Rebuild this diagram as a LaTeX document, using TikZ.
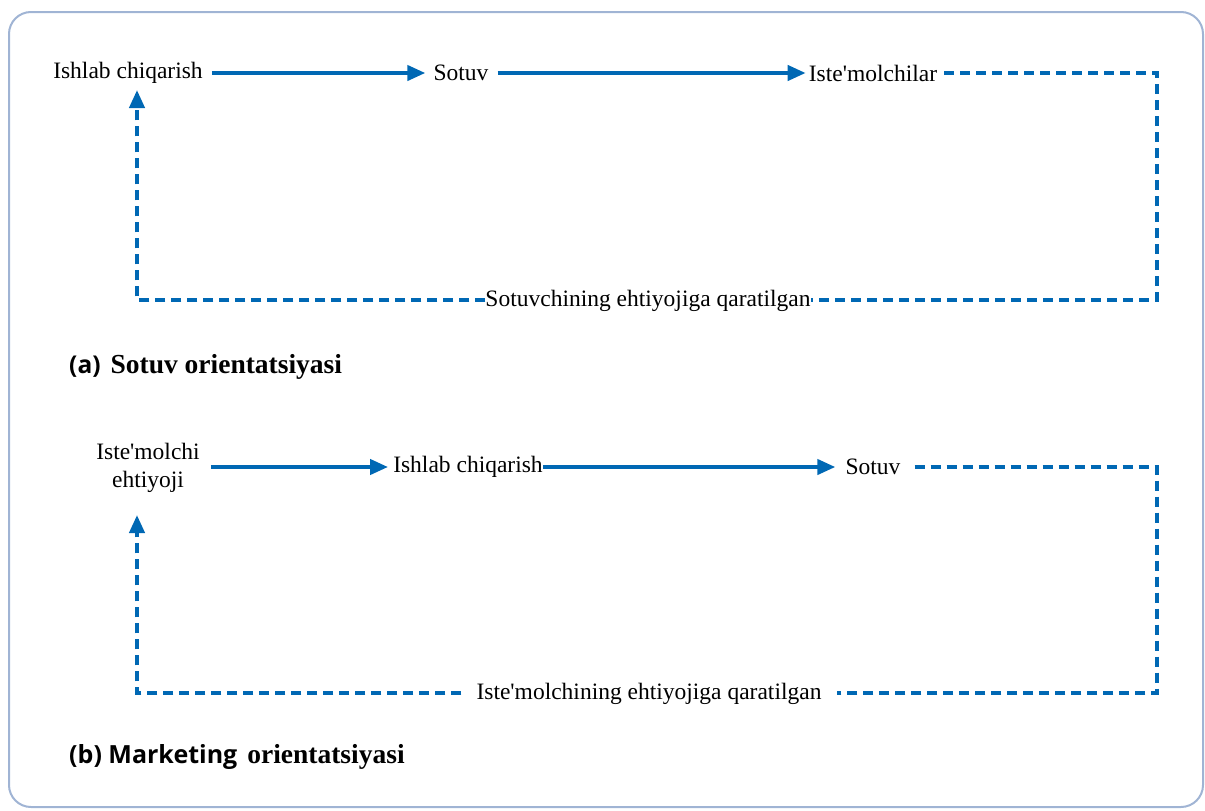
\documentclass[tikz,border=0pt]{standalone}
\usepackage{fontspec}
\setmainfont{Liberation Serif}[BoldFont={Liberation Serif Bold}]
\newfontfamily\capsans{Open Sans}
\usetikzlibrary{arrows.meta,calc}
\definecolor{flowblue}{RGB}{0,104,180}
\definecolor{framecol}{RGB}{160,180,212}
\newcommand{\apos}{\textquotesingle}
\begin{document}
\begin{tikzpicture}[x=1pt,y=-1pt,
  txt/.style={inner sep=0pt, inner xsep=6pt, font=\fontsize{23.5}{27}\selectfont, text=black},
  solidarrow/.style={draw=flowblue, line width=4pt, -{Triangle[length=18pt,width=15pt]}},
  dashline/.style={draw=flowblue, line width=4pt, dash pattern=on 10pt off 6pt},
  dasharrow/.style={dashline, -{Triangle[length=18pt,width=15pt]}},
  capnode/.style={anchor=west, inner sep=0pt}
]
\useasboundingbox (0,0) rectangle (1205,811);
\draw[framecol, line width=2pt, rounded corners=22pt] (9,12) rectangle (1203,807);

% (a)
\node[txt] (a1) at (128,73) {Ishlab chiqarish};
\node[txt] (a2) at (461,73) {Sotuv};
\node[txt] (a3) at (873,73) {Iste\apos molchilar};
\coordinate (a1tip) at (137,90);
\coordinate (ac1) at (1157,73);
\coordinate (ac2) at (1157,300);
\coordinate (ac3) at (137,300);
\node[txt, inner xsep=0pt] (al) at (648,301) {Sotuvchining ehtiyojiga qaratilgan};
\draw[solidarrow] ([xshift=3pt]a1.east) -- ([xshift=-2pt]a2.west);
\draw[solidarrow] ([xshift=3pt]a2.east) -- ([xshift=3pt]a3.west);
\draw[dashline] ([xshift=1pt]a3.east) -- (ac1) -- (ac2) -- (al.east |- ac2);
\draw[dasharrow] (al.west |- ac3) -- (ac3) -- (a1tip);
\node[capnode] (capa) at (69,367) {{\capsans\fontsize{24.5}{28}\selectfont\bfseries (a)}\hspace{10pt}{\fontsize{27.5}{32}\selectfont\bfseries Sotuv orientatsiyasi}};

% (b)
\node[txt, align=center, font=\fontsize{23.5}{28}\selectfont] (b1) at (148,468) {Iste\apos molchi\\ehtiyoji};
\node[txt] (b2) at (468,467) {Ishlab chiqarish};
\node[txt] (b3) at (873,467) {Sotuv};
\coordinate (b1tip) at (137,515);
\coordinate (bc1) at (1157,467);
\coordinate (bc2) at (1157,693);
\coordinate (bc3) at (137,693);
\node[txt, inner xsep=15pt] (bl) at (649,694) {Iste\apos molchining ehtiyojiga qaratilgan};
\draw[solidarrow] ([xshift=5pt]b1.east |- b2.west) -- ([xshift=1pt]b2.west);
\draw[solidarrow] ([xshift=-6pt]b2.east) -- ([xshift=-4pt]b3.west);
\draw[dashline] ([xshift=8pt]b3.east) -- (bc1) -- (bc2) -- (bl.east |- bc2);
\draw[dasharrow] (bl.west |- bc3) -- (bc3) -- (b1tip);
\node[capnode] (capb) at (69,757) {{\capsans\fontsize{25}{28}\selectfont\bfseries (b) Marketing}\hspace{10pt}{\fontsize{27.5}{32}\selectfont\bfseries orientatsiyasi}};
\end{tikzpicture}
\end{document}
